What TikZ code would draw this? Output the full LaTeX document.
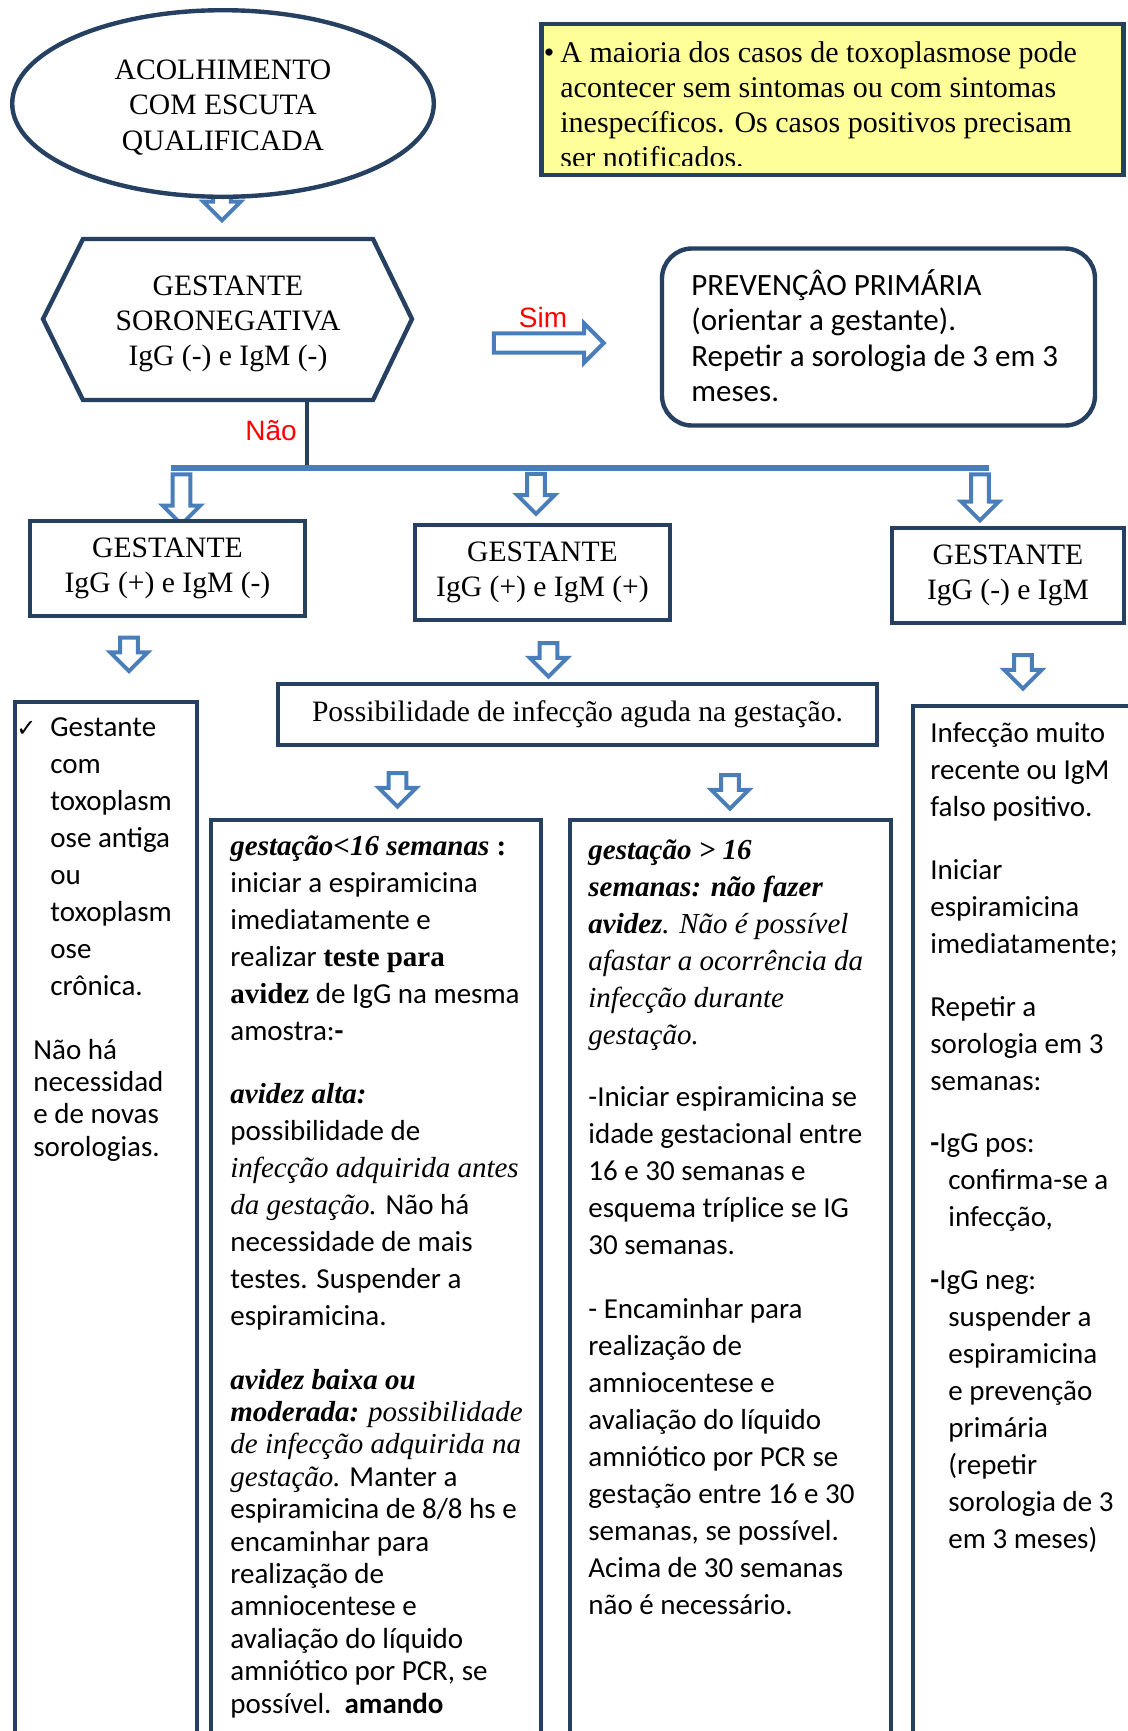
\documentclass[tikz,border=0pt]{standalone}
\usepackage{fontspec}
\setmainfont{Liberation Serif}
\newfontfamily\bodyfont{Carlito}
\newfontfamily\labelfont{Liberation Sans}
\newfontfamily\symfont{DejaVu Sans}
\usetikzlibrary{shapes.geometric, shapes.arrows, calc}

\definecolor{navy}{RGB}{37,64,97}
\definecolor{arrblue}{RGB}{74,126,187}
\definecolor{notefill}{RGB}{255,255,153}

\tikzset{
  flowbox/.style={draw=navy, line width=2.2pt, fill=white, inner sep=0pt, align=center,
                  font=\fontsize{14.8}{17.6}\selectfont},
  colbox/.style={draw=navy, line width=2.2pt, anchor=north west, inner sep=0pt},
  coltext/.style={anchor=north west, inner sep=0pt, align=left,
                  font=\bodyfont\fontsize{14.5}{18.5}\selectfont},
  tighttext/.style={coltext, font=\bodyfont\fontsize{14.5}{16.2}\selectfont},
  blk/.style={single arrow, draw=arrblue, fill=white, line width=2pt, inner xsep=0pt,
              inner ysep=3.4pt, minimum width=0pt, single arrow head extend=5pt,
              single arrow tip angle=90},
  blkdown/.style={blk, rotate=-90},
  answer/.style={text=red, font=\labelfont\fontsize{14}{16}\selectfont, inner sep=0pt}
}

\begin{document}
\begin{tikzpicture}[x=0.5pt, y=-0.5pt]
  \clip (0,0) rectangle (1128,1731);
  \fill[white] (0,0) rectangle (1128,1731);

  % Acolhimento (arrow tip peeks out below)
  \node[blkdown, minimum height=18pt] (a0) at (222,198) {};
  \node[flowbox, ellipse, minimum width=210.8pt, minimum height=93.3pt] (acolh) at (223,103.5) {};
  \node[align=center, inner sep=0pt, font=\fontsize{14.8}{17.6}\selectfont] (acolhtext) at (223,107.5)
    {ACOLHIMENTO\\COM ESCUTA\\QUALIFICADA};

  % Yellow note (text cut at the bottom)
  \node[draw=navy, line width=2.2pt, fill=notefill, minimum width=291pt, minimum height=75.5pt,
        inner sep=0pt] (nota) at (832.5,99.5) {};
  \begin{scope}
    \clip (545,27) rectangle (1122,165);
    \node[anchor=north west, inner sep=0pt, align=left, font=\fontsize{15}{17.5}\selectfont]
      (notatext) at (560,37.5)
      {\strut\llap{\textbullet\hspace{3pt}}A maioria dos casos de toxoplasmose pode\\
       acontecer sem sintomas ou com sintomas\\
       inespecíficos. Os casos positivos precisam\\
       ser notificados.};
  \end{scope}

  % Gestante soronegativa
  \draw[navy, line width=2.2pt, fill=white, line join=miter]
    (83,239) -- (373,239) -- (412,319) -- (373,400) -- (83,400) -- (43,319) -- cycle;
  \node[align=center, inner sep=0pt, font=\fontsize{14.8}{17.6}\selectfont] (soroneg) at (228,324)
    {GESTANTE\\SORONEGATIVA\\IgG (-) e IgM (-)};
  \coordinate (hexbot) at (307,400);

  % Sim -> prevencao primaria
  \node[blk, minimum height=55pt, inner ysep=3.8pt] (sim) at (544,343) {};
  \node[answer] (simlbl) at (543,317) {Sim};
  \node[draw=navy, line width=2.2pt, rounded corners=15pt, minimum width=216.5pt, minimum height=88.5pt,
        inner sep=0pt] (prev) at (878.5,337) {};
  \node[anchor=north west, inner sep=0pt, align=left, font=\bodyfont\fontsize{15.5}{17.7}\selectfont]
    (prevtext) at (691,269)
    {\strut PREVENÇÂO PRIMÁRIA\\(orientar a gestante).\\Repetir a sorologia de 3 em 3\\meses.};

  % Nao -> three branches
  \coordinate (barL) at (171,468);
  \coordinate (barR) at (989,468);
  \draw[navy, line width=1.6pt] (hexbot) -- (hexbot |- barL);
  \node[answer] (nao) at (271,431) {Não};
  \draw[arrblue, line width=2.6pt] (barL) -- (barR);
  \node[blkdown, minimum height=25pt] (a1) at (181.5,495) {};
  \node[blkdown, minimum height=20pt] (a2) at (536,489.5) {};
  \node[blkdown, minimum height=23pt] (a3) at (980,493) {};

  \node[flowbox, minimum width=137.5pt, minimum height=47.5pt] (g1) at (167.5,568.5)
    {GESTANTE\\IgG (+) e IgM (-)};
  \node[flowbox, minimum width=127.5pt, minimum height=47.5pt] (g2) at (542.5,572.5)
    {GESTANTE\\IgG (+) e IgM (+)};
  \node[flowbox, minimum width=116pt, minimum height=47.5pt] (g3) at (1008,575.5)
    {GESTANTE\\IgG (-) e IgM};

  \node[blkdown, minimum height=16.7pt] (b1) at (129,650) {};
  \node[blkdown, minimum height=16.7pt] (b2) at (548.5,655.5) {};
  \node[blkdown, minimum height=16.7pt] (b3) at (1023,667.5) {};

  \node[flowbox, minimum width=299.5pt, minimum height=30.5pt] (agudo) at (577.5,714.5)
    {Possibilidade de infecção aguda na gestação.};
  \node[blkdown, minimum height=16.7pt] (b4) at (397.5,785.5) {};
  \node[blkdown, minimum height=16.7pt] (b5) at (730,787.5) {};

  % Columns (run past the bottom edge)
  \node[colbox, minimum width=91pt, minimum height=540pt] (col1) at (13,700) {};
  \node[colbox, minimum width=165pt, minimum height=480pt] (col2) at (209,818) {};
  \node[colbox, minimum width=160.5pt, minimum height=480pt] (col3) at (568,818) {};
  \node[colbox, minimum width=130pt, minimum height=540pt] (col4) at (911,704) {};

  % Column 1
  \node[coltext] (c1a) at (50,710)
    {\strut\llap{{\symfont\fontsize{12}{14}\selectfont ✓}\hspace{7pt}}Gestante\\com\\toxoplasm\\ose antiga\\ou\\
     toxoplasm\\ose\\crônica.};
  \node[tighttext] (c1b) at (33,1036)
    {\strut Não há\\necessidad\\e de novas\\sorologias.};

  % Column 2
  \node[coltext] (c2a) at (230,829)
    {\strut{\rmfamily\bfseries\itshape gestação<16 semanas}{\rmfamily\bfseries\ :}\\
     iniciar a espiramicina\\
     imediatamente e\\
     realizar {\rmfamily\bfseries teste para}\\
     {\rmfamily\bfseries avidez} de IgG na mesma\\
     amostra:{\bfseries -}};
  \node[coltext] (c2b) at (230,1077)
    {\strut{\rmfamily\bfseries\itshape avidez alta:}\\
     possibilidade de\\
     {\rmfamily\itshape infecção adquirida antes}\\
     {\rmfamily\itshape da gestação.} Não há\\
     necessidade de mais\\
     testes. Suspender a\\
     espiramicina.};
  \node[tighttext] (c2c) at (230,1366)
    {\strut{\rmfamily\bfseries\itshape avidez baixa ou}\\
     {\rmfamily\bfseries\itshape moderada:} {\rmfamily\itshape possibilidade}\\
     {\rmfamily\itshape de infecção adquirida na}\\
     {\rmfamily\itshape gestação.} Manter a\\
     espiramicina de 8/8 hs e\\
     encaminhar para\\
     realização de\\
     amniocentese e\\
     avaliação do líquido\\
     amniótico por PCR, se\\
     possível.\ \ {\bfseries amando}};

  % Column 3
  \node[coltext] (c3a) at (588,833)
    {\strut{\rmfamily\bfseries\itshape gestação > 16}\\
     {\rmfamily\bfseries\itshape semanas: não fazer}\\
     {\rmfamily\bfseries\itshape avidez}{\rmfamily\itshape . Não é possível}\\
     {\rmfamily\itshape afastar a ocorrência da}\\
     {\rmfamily\itshape infecção durante}\\
     {\rmfamily\itshape gestação.}};
  \node[coltext] (c3b) at (588,1080)
    {\strut -Iniciar espiramicina se\\idade gestacional entre\\16 e 30 semanas e\\
     esquema tríplice se IG\\30 semanas.};
  \node[coltext] (c3c) at (588,1292)
    {\strut - Encaminhar para\\realização de\\amniocentese e\\avaliação do líquido\\
     amniótico por PCR se\\gestação entre 16 e 30\\semanas, se possível.\\
     Acima de 30 semanas\\não é necessário.};

  % Column 4
  \node[coltext] (c4a) at (930,716) {\strut Infecção muito\\recente ou IgM\\falso positivo.};
  \node[coltext] (c4b) at (930,853) {\strut Iniciar\\espiramicina\\imediatamente;};
  \node[coltext] (c4c) at (930,990) {\strut Repetir a\\sorologia em 3\\semanas:};
  \node[coltext] (c4d) at (930,1126)
    {\strut{\bfseries -}IgG pos:\\\hspace*{9pt}confirma-se a\\\hspace*{9pt}infecção,};
  \node[coltext] (c4e) at (930,1263)
    {\strut{\bfseries -}IgG neg:\\\hspace*{9pt}suspender a\\\hspace*{9pt}espiramicina\\
     \hspace*{9pt}e prevenção\\\hspace*{9pt}primária\\\hspace*{9pt}(repetir\\
     \hspace*{9pt}sorologia de 3\\\hspace*{9pt}em 3 meses)};
\end{tikzpicture}
\end{document}
